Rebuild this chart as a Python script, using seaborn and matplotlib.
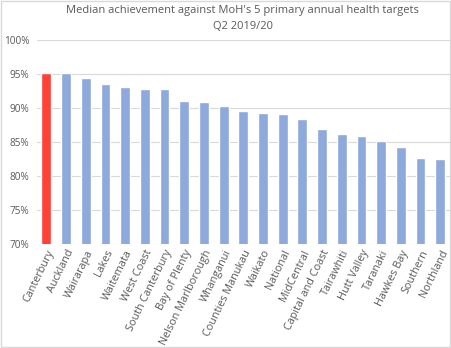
import matplotlib
matplotlib.use("Agg")
import matplotlib.pyplot as plt
import seaborn as sns
import pandas as pd
from matplotlib.ticker import PercentFormatter, MultipleLocator
from matplotlib.patches import Rectangle

regions = ["Canterbury", "Auckland", "Wairarapa", "Lakes", "Waitemata", "West Coast",
           "South Canterbury", "Bay of Plenty", "Nelson Marlborough", "Whanganui",
           "Counties Manukau", "Waikato", "National", "MidCentral", "Capital and Coast",
           "Tairawhiti", "Hutt Valley", "Taranaki", "Hawkes Bay", "Southern", "Northland"]
values = [95.1, 95.1, 94.45, 93.5, 93.1, 92.8, 92.8, 91.0, 90.85, 90.3,
          89.55, 89.3, 89.05, 88.35, 86.85, 86.15, 85.9, 85.15, 84.2, 82.7, 82.55]
highlight = ["Canterbury"]

df = pd.DataFrame({"region": regions, "value": values})
df["grp"] = ["hl" if r in highlight else "other" for r in regions]

sns.set_theme(style="white")
plt.rcParams["font.family"] = ["Open Sans", "DejaVu Sans"]

fig = plt.figure(figsize=(4.51, 3.48), dpi=100)
ax = fig.add_axes([0.081, 0.299, 0.917, 0.586])
sns.barplot(data=df, x="region", y="value", hue="grp", order=regions,
            palette={"hl": "#FF4136", "other": "#8EA9DB"}, dodge=False,
            width=0.5, legend=False, ax=ax, saturation=1)

ax.set_ylim(70, 100)
ax.set_xlim(-0.5, len(regions) - 0.5)
ax.yaxis.set_major_locator(MultipleLocator(5))
ax.yaxis.set_major_formatter(PercentFormatter(decimals=0))
ax.grid(axis="y", color="#D9D9D9", linewidth=0.8)
ax.set_axisbelow(True)
for s in ax.spines.values():
    s.set_visible(False)
ax.set_xlabel("")
ax.set_ylabel("")
ax.tick_params(axis="y", length=0, labelsize=7.2, labelcolor="#595959", pad=5)
ax.tick_params(axis="x", length=0, labelsize=7.8, labelcolor="#595959", pad=3)
plt.setp(ax.get_xticklabels(), rotation=64, ha="right", rotation_mode="anchor")

fig.text(0.538, 0.97, "Median achievement against MoH's 5 primary annual health targets",
         ha="center", va="center", fontsize=8.0, color="#595959")
fig.text(0.538, 0.925, "Q2 2019/20", ha="center", va="center", fontsize=8.0, color="#595959")

fig.patches.append(Rectangle((0.002, 0.003), 0.995, 0.994, transform=fig.transFigure,
                             fill=False, edgecolor="#D9D9D9", linewidth=1))

fig.savefig("out.png", dpi=100)
